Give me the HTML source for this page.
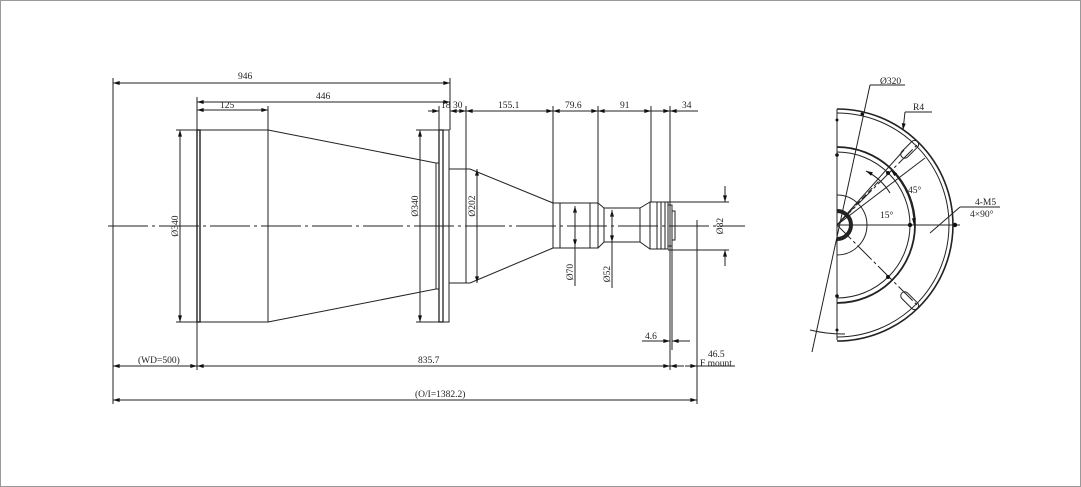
<!DOCTYPE html>
<html><head><style>
html,body{margin:0;padding:0;background:#fff;width:1081px;height:487px;overflow:hidden}
svg{display:block}
text{font-family:"Liberation Serif",serif;font-size:9.5px;fill:#222}
</style></head><body>
<svg width="1081" height="487" viewBox="0 0 1081 487" xmlns="http://www.w3.org/2000/svg">
<defs>
<marker id="a" viewBox="0 0 10 6" refX="10" refY="3" markerWidth="8" markerHeight="4" orient="auto-start-reverse"><path d="M0,0L10,3L0,6z" fill="#111"/></marker>
</defs>
<rect x="0.5" y="0.5" width="1080" height="486" fill="none" stroke="#999" stroke-width="1"/>
<g stroke="#222" stroke-width="1" fill="none">
<!-- axis -->
<line x1="108" y1="226" x2="745" y2="226" stroke-dasharray="40,4,3,4"/>
<!-- extension lines -->
<line x1="113" y1="78" x2="113" y2="404"/>
<line x1="197" y1="97" x2="197" y2="370"/>
<line x1="450" y1="78" x2="450" y2="130"/>
<line x1="268" y1="106" x2="268" y2="130"/>
<line x1="439" y1="106" x2="439" y2="130"/>
<line x1="466" y1="106" x2="466" y2="169"/>
<line x1="553" y1="106" x2="553" y2="203"/>
<line x1="598" y1="106" x2="598" y2="203"/>
<line x1="651" y1="106" x2="651" y2="202"/>
<line x1="670" y1="106" x2="670" y2="370"/>
<line x1="672" y1="245" x2="672" y2="350"/>
<line x1="697" y1="220" x2="697" y2="404"/>
<!-- dims -->
<line x1="113" y1="83" x2="450" y2="83" marker-start="url(#a)" marker-end="url(#a)"/>
<line x1="197" y1="102" x2="450" y2="102" marker-start="url(#a)" marker-end="url(#a)"/>
<line x1="197" y1="110" x2="268" y2="110" marker-start="url(#a)" marker-end="url(#a)"/>
<line x1="428" y1="111" x2="439" y2="111" marker-end="url(#a)"/>
<line x1="450" y1="111" x2="466" y2="111" marker-start="url(#a)" marker-end="url(#a)"/>
<line x1="466" y1="111" x2="553" y2="111" marker-start="url(#a)" marker-end="url(#a)"/>
<line x1="553" y1="111" x2="598" y2="111" marker-start="url(#a)" marker-end="url(#a)"/>
<line x1="598" y1="111" x2="651" y2="111" marker-start="url(#a)" marker-end="url(#a)"/>
<line x1="651" y1="111" x2="670" y2="111" marker-end="url(#a)"/>
<line x1="670" y1="111" x2="698" y2="111" marker-start="url(#a)"/>
<line x1="113" y1="366" x2="197" y2="366" marker-start="url(#a)" marker-end="url(#a)"/>
<line x1="197" y1="366" x2="670" y2="366" marker-start="url(#a)" marker-end="url(#a)"/>
<line x1="670" y1="366" x2="684" y2="366" marker-start="url(#a)"/>
<line x1="685" y1="366" x2="697" y2="366" marker-end="url(#a)"/>
<line x1="697" y1="366" x2="735" y2="366"/>
<line x1="113" y1="400" x2="697" y2="400" marker-start="url(#a)" marker-end="url(#a)"/>
<line x1="642" y1="341" x2="670" y2="341" marker-end="url(#a)"/>
<line x1="672" y1="341" x2="690" y2="341" marker-start="url(#a)"/>
<!-- vertical diam dims -->
<line x1="180" y1="130" x2="180" y2="322" marker-start="url(#a)" marker-end="url(#a)"/>
<line x1="176" y1="130" x2="197" y2="130"/><line x1="176" y1="322" x2="197" y2="322"/>
<line x1="420" y1="130" x2="420" y2="322" marker-start="url(#a)" marker-end="url(#a)"/>
<line x1="416" y1="130" x2="439" y2="130"/><line x1="416" y1="322" x2="439" y2="322"/>
<line x1="477" y1="169" x2="477" y2="283" marker-start="url(#a)" marker-end="url(#a)"/>
<line x1="575" y1="206" x2="575" y2="286" marker-start="url(#a)"/>
<line x1="575" y1="206" x2="575" y2="246" marker-end="url(#a)"/>
<line x1="612" y1="210" x2="612" y2="288" marker-start="url(#a)"/>
<line x1="612" y1="210" x2="612" y2="242" marker-end="url(#a)"/>
<line x1="725" y1="186" x2="725" y2="202" marker-end="url(#a)"/>
<line x1="725" y1="250" x2="725" y2="266" marker-start="url(#a)"/>
<line x1="668" y1="202" x2="729" y2="202"/><line x1="668" y1="250" x2="729" y2="250"/>
<line x1="697" y1="220" x2="697" y2="232"/>
<!-- lens body -->
<rect x="197" y="130" width="3" height="192" stroke-width="1.4"/>
<rect x="200" y="130" width="68" height="192"/>
<path d="M268,130 L436,163 L436,289 L268,322"/>
<rect x="436" y="163" width="3" height="126"/>
<rect x="439" y="130" width="4" height="192" stroke-width="1.3"/>
<rect x="443" y="130" width="6" height="192"/>
<rect x="449" y="169" width="17" height="114"/>
<path d="M466,169 L470,169 L553,203 M466,283 L470,283 L553,248"/>
<rect x="553" y="203" width="45" height="45"/>
<line x1="560" y1="203" x2="560" y2="248"/><line x1="590" y1="203" x2="590" y2="248"/>
<path d="M598,203 L604,208 L640,208 L650,202 M598,248 L604,242 L640,242 L650,249"/>
<line x1="604" y1="208" x2="604" y2="242"/><line x1="640" y1="208" x2="640" y2="242"/>
<rect x="650" y="202" width="18" height="47"/>
<line x1="657" y1="202" x2="657" y2="249"/><line x1="661" y1="202" x2="661" y2="249"/><line x1="665" y1="202" x2="665" y2="249"/>
<rect x="668" y="205" width="4" height="41"/>
<rect x="672" y="211" width="3" height="29"/>
<!-- right view -->
<line x1="837" y1="109" x2="837" y2="340"/>
<path d="M837,109 A116,116 0 0 1 837,341" stroke-width="1.6"/>
<path d="M837,113 A112,112 0 0 1 837,337"/>
<path d="M837,147 A78,78 0 0 1 837,303" stroke-width="1.8"/>
<path d="M837,152 A73,73 0 0 1 837,298"/>
<path d="M837,195 A30,30 0 0 1 837,255"/>
<path d="M837,211 A14,14 0 0 1 837,239" stroke-width="4"/>
<line x1="837" y1="225" x2="960" y2="225"/>
<line x1="837" y1="225" x2="918" y2="144" stroke-dasharray="20,3,3,3"/>
<line x1="837" y1="225" x2="918" y2="306" stroke-dasharray="20,3,3,3"/>
<line x1="837" y1="225" x2="904" y2="150"/>
<line x1="837" y1="225" x2="925" y2="158"/>
<line x1="837" y1="225" x2="880" y2="180" stroke-dasharray="6,3"/>
<path d="M914,225 A77,77 0 0 0 891,170" marker-start="url(#a)" marker-end="url(#a)"/>
<path d="M890,193 A60,60 0 0 0 866,171" marker-end="url(#a)"/>
<g transform="rotate(-45 909 150)"><rect x="899" y="146" width="22" height="8" rx="4"/></g>
<g transform="rotate(45 909 300)"><rect x="899" y="296" width="22" height="8" rx="4"/></g>
<line x1="812" y1="352" x2="870" y2="85"/>
<line x1="870" y1="85" x2="905" y2="85"/>
<line x1="905" y1="112" x2="932" y2="112"/><line x1="905" y1="112" x2="903" y2="130" marker-end="url(#a)"/>
<line x1="930" y1="233" x2="960" y2="207"/><line x1="960" y1="207" x2="1000" y2="207"/>
<path d="M810,330 A140,140 0 0 0 845,334"/>
</g>
<g fill="#111">
<circle cx="910" cy="225" r="2.2"/><circle cx="955" cy="225" r="2.2"/><circle cx="888" cy="173" r="2"/><circle cx="888" cy="277" r="2"/>
<circle cx="837" cy="155" r="1.8"/><circle cx="837" cy="296" r="1.8"/><circle cx="837" cy="120" r="1.5"/><circle cx="837" cy="330" r="1.5"/>
<circle cx="862" cy="114" r="1.5"/>
</g>
<text x="238" y="79">946</text>
<text x="316" y="99">446</text>
<text x="220" y="108">125</text>
<text x="441" y="108">18</text>
<text x="453" y="108">30</text>
<text x="498" y="108">155.1</text>
<text x="565" y="108">79.6</text>
<text x="620" y="108">91</text>
<text x="682" y="108">34</text>
<text x="138" y="363">(WD=500)</text>
<text x="418" y="363">835.7</text>
<text x="415" y="397">(O/I=1382.2)</text>
<text x="645" y="339">4.6</text>
<text x="708" y="357">46.5</text>
<text x="700" y="366">F mount</text>
<text transform="translate(178,226) rotate(-90)" text-anchor="middle">Ø340</text>
<text transform="translate(418,206) rotate(-90)" text-anchor="middle">Ø340</text>
<text transform="translate(475,206) rotate(-90)" text-anchor="middle">Ø202</text>
<text transform="translate(573,272) rotate(-90)" text-anchor="middle">Ø70</text>
<text transform="translate(610,274) rotate(-90)" text-anchor="middle">Ø52</text>
<text transform="translate(723,226) rotate(-90)" text-anchor="middle">Ø82</text>
<text x="880" y="84">Ø320</text>
<text x="913" y="110">R4</text>
<text x="908" y="193">45°</text>
<text x="880" y="218">15°</text>
<text x="975" y="205">4-M5</text>
<text x="970" y="217">4×90°</text>
</svg>
</body></html>
